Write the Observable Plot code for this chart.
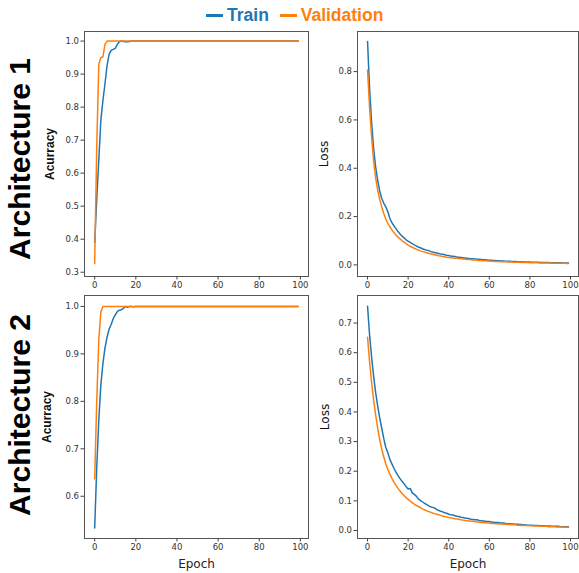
<!DOCTYPE html>
<html>
<head>
<meta charset="utf-8">
<script src="https://cdn.jsdelivr.net/npm/d3@7"></script>
<script src="https://cdn.jsdelivr.net/npm/@observablehq/plot@0.6"></script>
<style>
  html, body { margin: 0; padding: 0; background: #fff; }
  #root { position: relative; width: 579px; height: 573px; overflow: hidden; background: #fff; }
  .panel { position: absolute; }
  #legend { position: absolute; top: 5px; left: 206px; font-family: "Liberation Sans", Arial, sans-serif; font-weight: bold; font-size: 17.5px; white-space: nowrap; }
  #legend .sw { display: inline-block; width: 17px; height: 3px; vertical-align: middle; margin-right: 4px; position: relative; top: -1px; }
  #legend .item { margin-right: 6px; }
</style>
</head>
<body>
<div id="root">
  <div id="legend">
    <span class="item" style="color:#1f77b4"><span class="sw" style="background:#1f77b4"></span>Train</span>
    <span class="item" style="color:#ff7f0e"><span class="sw" style="background:#ff7f0e"></span>Validation</span>
  </div>
</div>
<script>
// ---------- data ----------
const rowLabels = ["Architecture 1", "Architecture 2"];
const xTicks = [0, 20, 40, 60, 80, 100];

// Accuracy (epochs listed explicitly; flat at 1.0 after epoch 22)
const accEpochs = [0,1,2,3,4,5,6,7,8,9,10,11,12,13,14,15,16,17,18,19,20,21,22,99];
const trainAcc1 = [0.39,0.52,0.64,0.76,0.82,0.87,0.925,0.96,0.972,0.975,0.978,0.99,0.998,1.0,0.999,0.998,0.998,0.999,1.0,1.0,1.0,1.0,1.0,1.0];
const valAcc1   = [0.326,0.68,0.93,0.95,0.952,0.99,1.0,1.0,1.0,1.0,1.0,1.0,1.0,1.0,1.0,1.0,1.0,1.0,1.0,1.0,1.0,1.0,1.0,1.0];
const trainAcc2 = [0.533,0.66,0.76,0.835,0.88,0.912,0.935,0.952,0.962,0.974,0.982,0.989,0.992,0.993,0.996,1.0,0.998,1.0,1.0,0.999,1.0,1.0,1.0,1.0];
const valAcc2   = [0.637,0.80,0.93,0.988,1.0,1.0,1.0,1.0,1.0,1.0,1.0,1.0,1.0,1.0,1.0,1.0,1.0,1.0,1.0,1.0,1.0,1.0,1.0,1.0];

// Loss (one value per epoch 0..99)
const lossEpochs = d3.range(100);
const trainLoss1 = [0.925,0.73,0.59,0.48,0.405,0.35,0.305,0.275,0.255,0.24,0.22,0.192,0.175,0.162,0.150,0.138,0.128,0.119,0.112,0.104,
  0.098,0.093,0.088,0.083,0.079,0.074,0.071,0.067,0.064,0.061,0.060,0.056,0.053,0.051,0.049,0.047,0.045,0.044,0.042,0.040,
  0.039,0.037,0.036,0.035,0.033,0.032,0.031,0.030,0.029,0.028,0.027,0.026,0.025,0.024,0.023,0.023,0.022,0.021,0.021,0.020,
  0.019,0.019,0.018,0.018,0.017,0.017,0.016,0.016,0.015,0.015,0.015,0.014,0.014,0.014,0.013,0.013,0.013,0.012,0.012,0.012,
  0.012,0.011,0.011,0.011,0.011,0.010,0.010,0.010,0.010,0.010,0.009,0.009,0.009,0.009,0.009,0.009,0.008,0.008,0.008,0.008];
const valLoss1 = [0.807,0.65,0.53,0.43,0.36,0.31,0.27,0.24,0.213,0.19,0.172,0.158,0.145,0.134,0.124,0.115,0.108,0.100,0.094,0.088,
  0.082,0.077,0.073,0.069,0.065,0.062,0.058,0.055,0.053,0.050,0.048,0.046,0.044,0.042,0.040,0.038,0.037,0.035,0.034,0.032,
  0.031,0.030,0.029,0.028,0.027,0.026,0.025,0.024,0.023,0.022,0.022,0.021,0.020,0.020,0.019,0.018,0.018,0.017,0.017,0.016,
  0.016,0.015,0.015,0.014,0.014,0.014,0.013,0.013,0.013,0.012,0.012,0.012,0.011,0.011,0.011,0.011,0.010,0.010,0.010,0.010,
  0.009,0.009,0.009,0.009,0.009,0.008,0.008,0.008,0.008,0.008,0.008,0.007,0.007,0.007,0.007,0.007,0.007,0.007,0.006,0.006];
const trainLoss2 = [0.757,0.66,0.585,0.52,0.465,0.42,0.38,0.345,0.31,0.28,0.262,0.24,0.225,0.21,0.197,0.185,0.175,0.166,0.158,0.148,
  0.14,0.142,0.128,0.122,0.116,0.107,0.102,0.097,0.092,0.088,0.084,0.080,0.078,0.076,0.071,0.068,0.065,0.063,0.060,0.058,
  0.055,0.053,0.052,0.050,0.048,0.047,0.045,0.044,0.042,0.041,0.040,0.038,0.037,0.036,0.036,0.034,0.033,0.032,0.031,0.030,
  0.030,0.029,0.028,0.027,0.027,0.026,0.025,0.025,0.024,0.023,0.023,0.022,0.022,0.021,0.021,0.020,0.020,0.019,0.019,0.018,
  0.018,0.018,0.017,0.017,0.017,0.016,0.016,0.016,0.015,0.015,0.015,0.014,0.014,0.014,0.014,0.013,0.013,0.013,0.013,0.013];
const valLoss2 = [0.652,0.57,0.50,0.44,0.39,0.345,0.307,0.275,0.248,0.225,0.206,0.19,0.176,0.163,0.152,0.142,0.133,0.125,0.118,0.111,
  0.105,0.099,0.094,0.089,0.085,0.081,0.077,0.073,0.070,0.067,0.064,0.062,0.059,0.057,0.055,0.053,0.051,0.049,0.047,0.046,
  0.044,0.043,0.041,0.040,0.039,0.038,0.036,0.035,0.034,0.033,0.032,0.031,0.031,0.030,0.029,0.028,0.027,0.027,0.026,0.025,
  0.025,0.024,0.024,0.023,0.023,0.022,0.022,0.021,0.021,0.020,0.020,0.019,0.019,0.019,0.018,0.018,0.017,0.017,0.017,0.016,
  0.016,0.016,0.015,0.015,0.015,0.014,0.014,0.014,0.014,0.013,0.013,0.013,0.013,0.012,0.012,0.012,0.012,0.011,0.011,0.011];

const accTicks1 = [0.3,0.4,0.5,0.6,0.7,0.8,0.9,1.0];
const lossTicks1 = [0.0,0.2,0.4,0.6,0.8];
const accTicks2 = [0.6,0.7,0.8,0.9,1.0];
const lossTicks2 = [0.0,0.1,0.2,0.3,0.4,0.5,0.6,0.7];

// ---------- drawing ----------
const BLUE = "#1f77b4", ORANGE = "#ff7f0e";
const root = document.getElementById("root");

function panel(cfg) {
  const marks = [
    Plot.frame({stroke: "#555", strokeWidth: 1}),
    Plot.axisX({ticks: xTicks, tickSize: 3.5, tickPadding: 2, tickFormat: d3.format("d"), label: null, stroke: "#444"}),
    Plot.axisY({ticks: cfg.yticks, tickSize: 3.5, tickPadding: 2, tickFormat: d3.format(".1f"), label: null, stroke: "#444"}),
    Plot.lineY(cfg.train, {x: cfg.epochs, y: d => d, stroke: BLUE, strokeWidth: 1.5}),
    Plot.lineY(cfg.val, {x: cfg.epochs, y: d => d, stroke: ORANGE, strokeWidth: 1.5}),
    Plot.text([cfg.ylabel], {frameAnchor: "left", dx: cfg.ylabelDx, rotate: -90, textAnchor: "middle", lineAnchor: "middle",
      fontSize: 12, fontWeight: cfg.ylabelBold ? "bold" : "normal",
      fontFamily: cfg.ylabelBold ? "Liberation Sans, Arial, sans-serif" : "DejaVu Sans, sans-serif", fill: "#111"})
  ];
  if (cfg.epochLabel) {
    marks.push(Plot.text(["Epoch"], {frameAnchor: "bottom", dy: 26, textAnchor: "middle", lineAnchor: "middle",
      fontSize: 12, fontFamily: "DejaVu Sans, sans-serif", fill: "#222"}));
  }
  if (cfg.rowLabel) {
    marks.push(Plot.text([cfg.rowLabel], {frameAnchor: "left", dx: -64, dy: cfg.rowDy, rotate: -90, textAnchor: "middle", lineAnchor: "middle",
      fontSize: 30, fontWeight: "bold", fontFamily: "Liberation Sans, Arial, sans-serif", fill: "#000"}));
  }
  const chart = Plot.plot({
    width: cfg.width, height: cfg.height,
    marginLeft: cfg.ml, marginRight: cfg.mr, marginTop: cfg.mt, marginBottom: cfg.mb,
    x: {domain: [-4.95, 103.95]},
    y: {domain: cfg.ydomain},
    style: {fontFamily: "DejaVu Sans, sans-serif", fontSize: "8.5px", color: "#333", background: "transparent", overflow: "visible"},
    marks
  });
  const div = document.createElement("div");
  div.className = "panel";
  div.style.left = cfg.left + "px";
  div.style.top = cfg.top + "px";
  div.appendChild(chart);
  root.appendChild(div);
}

// top row
panel({left: 0, top: 21, width: 310, height: 275, ml: 84, mr: 2, mt: 10, mb: 20,
  ydomain: [0.287, 1.029], yticks: accTicks1, epochs: accEpochs, train: trainAcc1, val: valAcc1,
  ylabel: "Acurracy", ylabelBold: true, ylabelDx: -34, rowLabel: rowLabels[0], rowDy: 5});
panel({left: 310, top: 21, width: 269, height: 275, ml: 47, mr: 1, mt: 10, mb: 20,
  ydomain: [-0.048, 0.966], yticks: lossTicks1, epochs: lossEpochs, train: trainLoss1, val: valLoss1,
  ylabel: "Loss", ylabelBold: false, ylabelDx: -33});
// bottom row
panel({left: 0, top: 285, width: 310, height: 288, ml: 84, mr: 2, mt: 10, mb: 35,
  ydomain: [0.511, 1.023], yticks: accTicks2, epochs: accEpochs, train: trainAcc2, val: valAcc2,
  ylabel: "Acurracy", ylabelBold: true, ylabelDx: -37, rowLabel: rowLabels[1], rowDy: -2, epochLabel: true});
panel({left: 310, top: 285, width: 269, height: 288, ml: 47, mr: 1, mt: 10, mb: 35,
  ydomain: [-0.027, 0.793], yticks: lossTicks2, epochs: lossEpochs, train: trainLoss2, val: valLoss2,
  ylabel: "Loss", ylabelBold: false, ylabelDx: -32, epochLabel: true});
</script>
</body>
</html>
